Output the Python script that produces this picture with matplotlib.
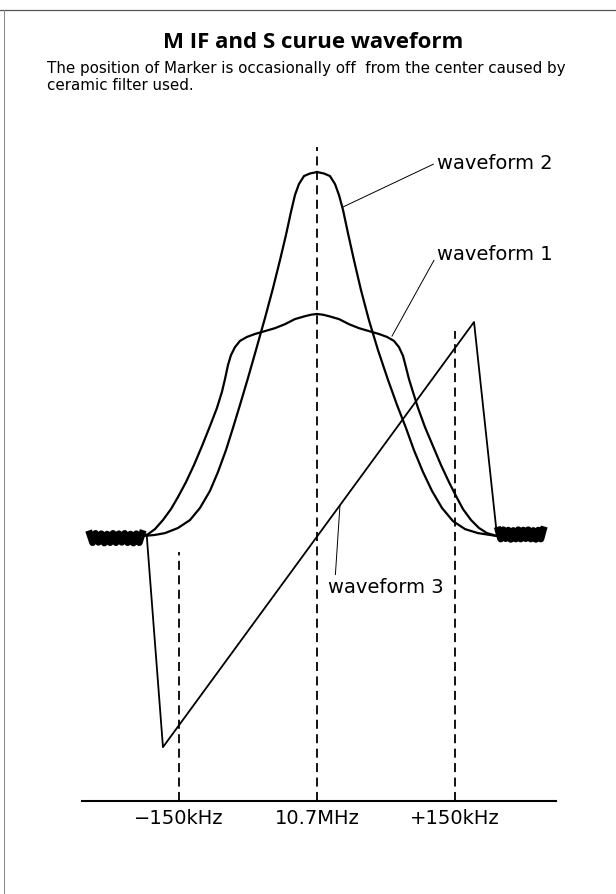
import numpy as np
import matplotlib
matplotlib.use('Agg')
import matplotlib.pyplot as plt
from matplotlib.lines import Line2D

# x in kHz offset from 10.7MHz, y in relative amplitude (baseline = 0)
wave1_x = [-189.1, -183.7, -176.1, -167.4, -158.7, -151.1, -142.4, -133.7, -125.0, -116.3, -108.7, -103.3,
           -100.0, -96.7, -93.5, -89.1, -83.7, -76.1, -67.4, -56.5, -45.7, -34.8, -23.9, -13.0, -6.5, 0,
           6.5, 13.0, 23.9, 34.8, 45.7, 56.5, 67.4, 76.1, 83.7, 89.1, 93.5, 96.7, 100.0, 104.3, 109.8,
           117.4, 126.1, 134.8, 143.5, 151.1, 158.7, 167.4, 176.1, 184.8, 195.7]
wave1_y = [0, 0.5, 1.9, 4.4, 7.4, 10.7, 14.8, 19.5, 24.7, 30.2, 35.2, 39.6,
           43.1, 47.0, 49.7, 51.9, 53.6, 54.7, 55.5, 56.3, 57.1, 58.2, 59.6, 60.4, 60.8, 61.0,
           60.8, 60.4, 59.6, 58.2, 57.1, 56.3, 55.5, 54.7, 53.6, 51.9, 49.5, 46.4, 43.1, 39.6, 35.2,
           29.9, 24.7, 19.5, 14.8, 11.0, 7.4, 4.4, 2.2, 0.8, 0]

wave2_x = [-189.1, -176.1, -165.2, -151.1, -138.0, -127.2, -116.3, -107.6, -98.9, -91.3, -83.7, -75.0,
           -66.3, -56.5, -47.8, -40.2, -33.7, -28.3, -23.9, -19.6, -14.1, -7.6, 0,
           7.6, 14.1, 19.6, 23.9, 28.3, 33.7, 40.2, 47.8, 56.5, 66.3, 77.2, 87.0, 96.7, 105.4, 115.2,
           125.0, 135.9, 147.8, 160.9, 175.0, 195.7]
wave2_y = [0, 0.3, 0.8, 2.2, 4.4, 7.7, 12.4, 17.6, 23.6, 29.7, 36.0, 43.4,
           51.1, 59.9, 68.1, 75.8, 82.7, 89.0, 93.7, 96.7, 98.9, 99.6, 100,
           99.6, 98.9, 96.7, 93.7, 89.6, 83.2, 75.8, 67.6, 59.3, 51.1, 42.9, 36.0, 29.7, 23.6, 17.6,
           12.4, 7.7, 4.1, 1.9, 0.8, 0]

wave3_x = [-185, -167.4, 170.7, 195.7]
wave3_y = [0, -58, 58.8, 0]

# marker noise at both ends of the trace
noise_left_x = [-247, -190]
noise_right_x = [197, 246]
noise_amp = [1.2, -1.2, 1.3, -1.1, 1.2, -1.3, 1.1, -1.2, 1.3, -1.2, 1.2, -1.1, 1.3, -1.2, 1.1, -1.3, 1.2,
             -1.2, 1.3]

markers = [-150, 0, 150]
marker_labels = ['\u2212150kHz', '10.7MHz', '+150kHz']
marker_tops = [-4.4, 107, 56.3]

fig = plt.figure(figsize=(6.16, 8.95), dpi=100)

# page border (scan edge)
fig.add_artist(Line2D([0, 1], [1 - 11 / 895, 1 - 11 / 895], color='#555555', lw=0.9))
fig.add_artist(Line2D([3.5 / 616, 3.5 / 616], [0, 1 - 11 / 895], color='#888888', lw=0.7))

fig.text(0.509, 1 - 42 / 895, 'M IF and S curue waveform', ha='center', va='center',
         fontsize=16, fontweight='bold', family='Open Sans')
fig.text(47 / 616, 1 - 68 / 895,
         'The position of Marker is occasionally off  from the center caused by',
         ha='left', va='center', fontsize=10.9, family='DejaVu Sans')
fig.text(47 / 616, 1 - 85 / 895, 'ceramic filter used.',
         ha='left', va='center', fontsize=10.9, family='DejaVu Sans')

ax = fig.add_axes([82 / 616, 93 / 895, 474 / 616, 665 / 895])
ax.set_xlim(-255.4, 259.8)
ax.set_ylim(-72.8, 109.9)

for m, top in zip(markers, marker_tops):
    ax.plot([m, m], [-72.8, top], color='black', lw=1.3, linestyle=(0, (5, 3)))

ax.plot(wave1_x, wave1_y, color='black', lw=1.6, solid_joinstyle='round')
ax.plot(wave2_x, wave2_y, color='black', lw=1.6, solid_joinstyle='round')
ax.plot(wave3_x, wave3_y, color='black', lw=1.3)

for nx, lvl in ((noise_left_x, -0.6), (noise_right_x, 0.4)):
    xs = np.linspace(nx[0], nx[1], len(noise_amp))
    ax.plot(xs, np.array(noise_amp) + lvl, color='black', lw=5, solid_joinstyle='round')

ax.annotate('waveform 2', xy=(28.3, 90.4), xytext=(131, 102.7), fontsize=14, va='center', ha='left',
            arrowprops=dict(arrowstyle='-', lw=0.7, color='black', shrinkA=1, shrinkB=0, relpos=(0, 0.5)))
ax.annotate('waveform 1', xy=(81.5, 54.9), xytext=(131, 77.5), fontsize=14, va='center', ha='left',
            arrowprops=dict(arrowstyle='-', lw=0.7, color='black', shrinkA=1, shrinkB=0, relpos=(0, 0.5)))
ax.annotate('waveform 3', xy=(25, 8.5), xytext=(12, -14), fontsize=14, va='center', ha='left',
            arrowprops=dict(arrowstyle='-', lw=0.7, color='black', shrinkA=0, shrinkB=0, relpos=(0.06, 0.8)))

for s in ['top', 'right', 'left']:
    ax.spines[s].set_visible(False)
ax.spines['bottom'].set_linewidth(1.5)
ax.set_yticks([])
ax.set_xticks(markers, marker_labels)
ax.tick_params(axis='x', length=0, pad=5, labelsize=14)
ax.patch.set_visible(False)

fig.savefig('out.png', dpi=100)
